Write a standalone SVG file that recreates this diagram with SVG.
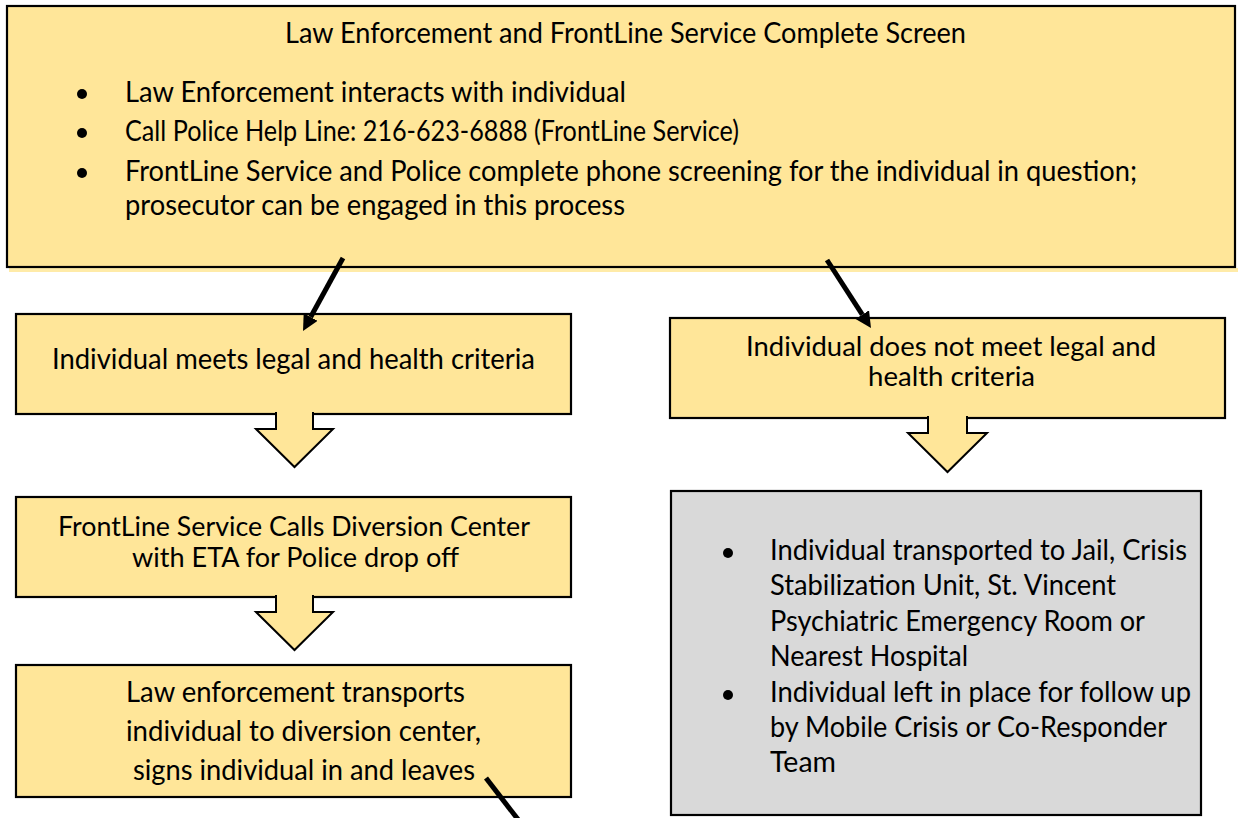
<svg xmlns="http://www.w3.org/2000/svg" width="1244" height="818" viewBox="0 0 1244 818">
<style>
  .box { fill: #FFE699; stroke: #000; stroke-width: 2.2; }
  .gray { fill: #D9D9D9; stroke: #000; stroke-width: 2.2; }
  .blk { fill: #FFE699; stroke: #000; stroke-width: 2; stroke-linejoin: miter; }
  .t { font-family: Lato, "Liberation Sans", sans-serif; font-size: 28px; fill: #000; }
  .t2 { font-family: Lato, "Liberation Sans", sans-serif; font-size: 27px; fill: #000; }
  .conn { stroke: #000; stroke-width: 5; fill: none; }
</style>
<defs>
  <marker id="ah" markerUnits="userSpaceOnUse" markerWidth="18" markerHeight="18" refX="0" refY="8" orient="auto">
    <path d="M0,0 L16,8 L0,16 z" fill="#000"/>
  </marker>
</defs>
<rect width="1244" height="818" fill="#fff"/>

<g id="node-screen">
  <rect x="9" y="268" width="1229" height="4" fill="#FFEBA8"/>
  <rect class="box" x="7" y="6" width="1228" height="261"/>
  <text class="t" x="285" y="43" textLength="681" lengthAdjust="spacingAndGlyphs">Law Enforcement and FrontLine Service Complete Screen</text>
  <circle cx="82" cy="94" r="5"/>
  <circle cx="82" cy="133" r="5"/>
  <circle cx="82" cy="173" r="5"/>
  <text class="t" x="125" y="102" textLength="501" lengthAdjust="spacingAndGlyphs">Law Enforcement interacts with individual</text>
  <text class="t" x="125" y="141" textLength="614" lengthAdjust="spacingAndGlyphs">Call Police Help Line: 216-623-6888 (FrontLine Service)</text>
  <text class="t" x="125" y="181" textLength="1012" lengthAdjust="spacingAndGlyphs">FrontLine Service and Police complete phone screening for the individual in question;</text>
  <text class="t" x="125" y="215" textLength="500" lengthAdjust="spacingAndGlyphs">prosecutor can be engaged in this process</text>
</g>

<g id="node-meets">
  <rect class="box" x="16" y="314" width="555" height="100"/>
  <text class="t" x="52" y="369" textLength="483" lengthAdjust="spacingAndGlyphs">Individual meets legal and health criteria</text>
  <path class="blk" d="M276,412 L276,429 L256,429 L294.5,467 L333,429 L313,429 L313,412"/>
</g>

<g id="node-not-meet">
  <rect class="box" x="670" y="318" width="555" height="100"/>
  <text class="t2" x="746" y="356" textLength="410" lengthAdjust="spacingAndGlyphs">Individual does not meet legal and</text>
  <text class="t2" x="868" y="386" textLength="167" lengthAdjust="spacingAndGlyphs">health criteria</text>
  <path class="blk" d="M928,416 L928,433 L908,433 L947.5,472 L987,433 L967,433 L967,416"/>
</g>

<g id="node-calls">
  <rect class="box" x="16" y="497" width="555" height="100"/>
  <text class="t2" x="58" y="536" textLength="472" lengthAdjust="spacingAndGlyphs">FrontLine Service Calls Diversion Center</text>
  <text class="t2" x="132" y="567" textLength="327" lengthAdjust="spacingAndGlyphs">with ETA for Police drop off</text>
  <path class="blk" d="M276,595 L276,612 L256,612 L294.5,650 L333,612 L313,612 L313,595"/>
</g>

<g id="node-transport">
  <rect class="box" x="16" y="665" width="555" height="132"/>
  <text class="t" x="126" y="702" textLength="339" lengthAdjust="spacingAndGlyphs">Law enforcement transports</text>
  <text class="t" x="126" y="741" textLength="355" lengthAdjust="spacingAndGlyphs">individual to diversion center,</text>
  <text class="t" x="133" y="780" textLength="342" lengthAdjust="spacingAndGlyphs">signs individual in and leaves</text>
</g>

<g id="node-outcomes">
  <rect class="gray" x="671" y="491" width="530" height="324"/>
  <circle cx="728" cy="553" r="5"/>
  <circle cx="728" cy="695" r="5"/>
  <text class="t" x="770" y="560" textLength="417" lengthAdjust="spacingAndGlyphs">Individual transported to Jail, Crisis</text>
  <text class="t" x="770" y="595" textLength="346" lengthAdjust="spacingAndGlyphs">Stabilization Unit, St. Vincent</text>
  <text class="t" x="770" y="631" textLength="375" lengthAdjust="spacingAndGlyphs">Psychiatric Emergency Room or</text>
  <text class="t" x="770" y="666" textLength="198" lengthAdjust="spacingAndGlyphs">Nearest Hospital</text>
  <text class="t" x="770" y="702" textLength="421" lengthAdjust="spacingAndGlyphs">Individual left in place for follow up</text>
  <text class="t" x="770" y="737" textLength="397" lengthAdjust="spacingAndGlyphs">by Mobile Crisis or Co-Responder</text>
  <text class="t" x="770" y="772" textLength="66" lengthAdjust="spacingAndGlyphs">Team</text>
</g>

<g id="connectors">
  <line class="conn" x1="343" y1="258" x2="310.7" y2="317" marker-end="url(#ah)"/>
  <line class="conn" x1="827" y1="260" x2="862.3" y2="314.6" marker-end="url(#ah)"/>
  <line class="conn" x1="486" y1="778" x2="520" y2="822"/>
</g>
</svg>
